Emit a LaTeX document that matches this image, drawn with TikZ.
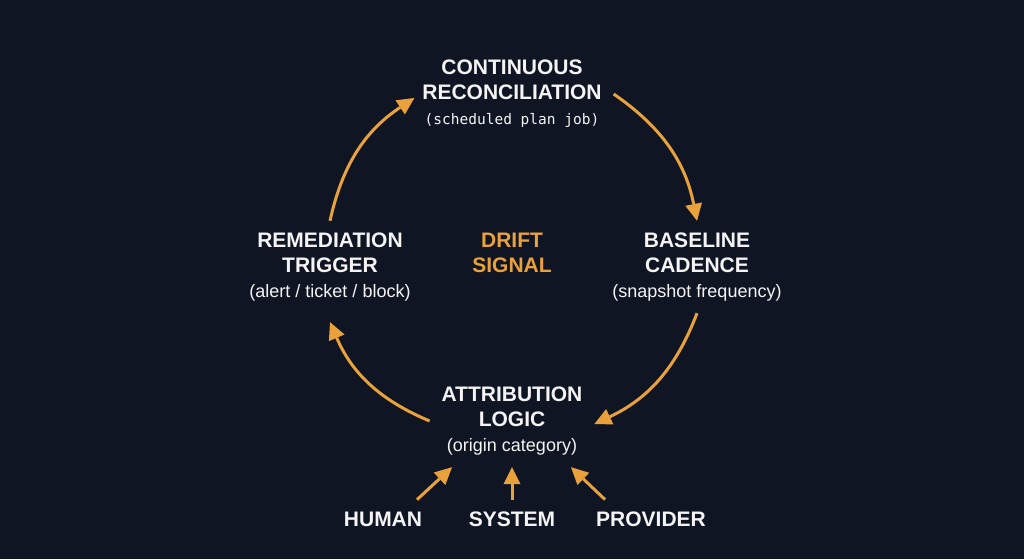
\documentclass[tikz,border=0pt]{standalone}
\usepackage{fontspec}
\setmainfont{Liberation Sans}
\setmonofont{DejaVu Sans Mono}
\usepackage{tikz}
\usetikzlibrary{arrows.meta}
\definecolor{bgnavy}{HTML}{0F1523}
\definecolor{amber}{HTML}{E9A23B}
\definecolor{offwhite}{HTML}{F4F4F4}

\begin{document}
\begin{tikzpicture}[x=1pt,y=1pt,
    stage/.style={align=center,text=offwhite,inner sep=4pt,outer sep=8pt,font=\fontsize{21}{25}\selectfont\bfseries},
    arc/.style={draw=amber,line width=3pt,-{Triangle[length=17pt,width=17pt,fill=amber,line width=0pt]}}]
    \fill[bgnavy] (0,0) rectangle (1024,559);
    \node[stage] (rec)   at (512,465) {CONTINUOUS\\RECONCILIATION\\{\fontsize{14.5}{25}\selectfont\ttfamily\mdseries (scheduled plan job)}};
    \node[stage] (base)  at (697,292) {BASELINE\\CADENCE\\{\fontsize{18}{25}\selectfont\mdseries (snapshot frequency)}};
    \node[stage] (attr)  at (512,138) {ATTRIBUTION\\LOGIC\\{\fontsize{18}{25}\selectfont\mdseries (origin category)}};
    \node[stage] (trig)  at (330,292) {REMEDIATION\\TRIGGER\\{\fontsize{18}{25}\selectfont\mdseries (alert / ticket / block)}};
    \node[stage,text=amber] (drift) at (512,306) {DRIFT\\SIGNAL};
    \node[stage] (human)    at (383,40) {HUMAN};
    \node[stage] (system)   at (512,40) {SYSTEM};
    \node[stage] (provider) at (651,40) {PROVIDER};
    \path
      (trig.north) edge[arc,bend left=22] ([xshift=4pt,yshift=-4pt]rec.west)
      (rec.east)   edge[arc,bend left=22] (base.north)
      (base.south) edge[arc,bend left=22] ([yshift=-3pt]attr.east)
      (attr.west)  edge[arc,bend left=22] ([yshift=-9pt]trig.south);
    \path
      ([xshift=34pt]human.north)     edge[arc] ([xshift=-60pt]attr.south)
      (system.north)                 edge[arc] (attr.south)
      ([xshift=-46pt]provider.north) edge[arc] ([xshift=59pt]attr.south);
\end{tikzpicture}
\end{document}
